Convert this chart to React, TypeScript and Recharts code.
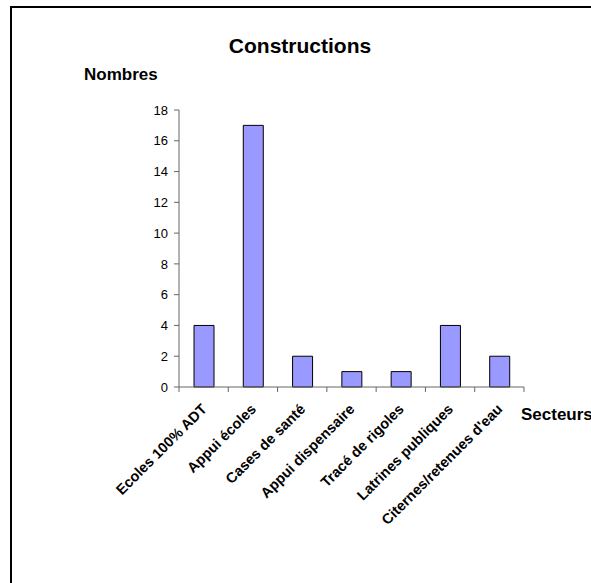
import React from 'react';
import { BarChart, Bar, XAxis, YAxis } from 'recharts';

const secteurs = [
  'Ecoles 100% ADT',
  'Appui écoles',
  'Cases de santé',
  'Appui dispensaire',
  'Tracé de rigoles',
  'Latrines publiques',
  "Citernes/retenues d'eau",
];
const nombres = [4, 17, 2, 1, 1, 4, 2];
const yTicks = [0, 2, 4, 6, 8, 10, 12, 14, 16, 18];

const data = secteurs.map((name, i) => ({ name, value: nombres[i] }));

const W = 591;
const H = 583;
const margin = { top: 110, right: 67, bottom: 0, left: 119 };
const yAxisWidth = 60;
const xAxisHeight = 196;
const band = (W - margin.left - yAxisWidth - margin.right) / secteurs.length;
const font = '"Liberation Sans", Arial, sans-serif';

// tick marks between categories, like the Excel original
const SecteurTick = (props: any) => {
  const { x, y, payload, index } = props;
  const last = index === secteurs.length - 1;
  const tx = x + 4;
  const ty = y + 23;
  return (
    <g>
      <line x1={x - band / 2} y1={y} x2={x - band / 2} y2={y + 5} stroke="#666" />
      {last && <line x1={x + band / 2} y1={y} x2={x + band / 2} y2={y + 5} stroke="#666" />}
      <text
        x={tx}
        y={ty}
        textAnchor="end"
        transform={`rotate(-45 ${tx} ${ty})`}
        fontFamily={font}
        fontSize={14.5}
        fontWeight="bold"
        fill="#000"
      >
        {payload.value}
      </text>
    </g>
  );
};

const App: React.FC = () => {
  return (
    <div
      style={{
        position: 'absolute',
        left: 0,
        top: 0,
        width: W,
        height: H,
        overflow: 'hidden',
        background: '#fff',
      }}
    >
      <div
        style={{
          position: 'absolute',
          left: 10,
          top: 6,
          width: 700,
          height: 700,
          border: '2px solid #000',
          boxSizing: 'border-box',
        }}
      />
      <div style={{ position: 'absolute', left: 0, top: 0 }}>
        <BarChart width={W} height={H} data={data} margin={margin}>
          <YAxis
            width={yAxisWidth}
            domain={[0, 18]}
            ticks={yTicks}
            interval={0}
            stroke="#666"
            tickSize={5}
            tickMargin={6}
            tick={{ fill: '#000', fontSize: 13, fontFamily: font }}
          />
          <XAxis
            dataKey="name"
            height={xAxisHeight}
            interval={0}
            stroke="#666"
            tickLine={false}
            tickSize={0}
            tickMargin={0}
            tick={<SecteurTick />}
          />
          <Bar
            dataKey="value"
            fill="#9999ff"
            stroke="#000"
            strokeWidth={1}
            barSize={20}
            isAnimationActive={false}
          />
        </BarChart>
      </div>
      <svg
        width={W}
        height={H}
        style={{ position: 'absolute', left: 0, top: 0, pointerEvents: 'none' }}
      >
        <text x={300} y={53} textAnchor="middle" fontFamily={font} fontSize={21} fontWeight="bold">
          Constructions
        </text>
        <text x={84} y={80} fontFamily={font} fontSize={17} fontWeight="bold">
          Nombres
        </text>
        <text x={521} y={420} fontFamily={font} fontSize={17} fontWeight="bold">
          Secteurs
        </text>
      </svg>
    </div>
  );
};

export default App;
